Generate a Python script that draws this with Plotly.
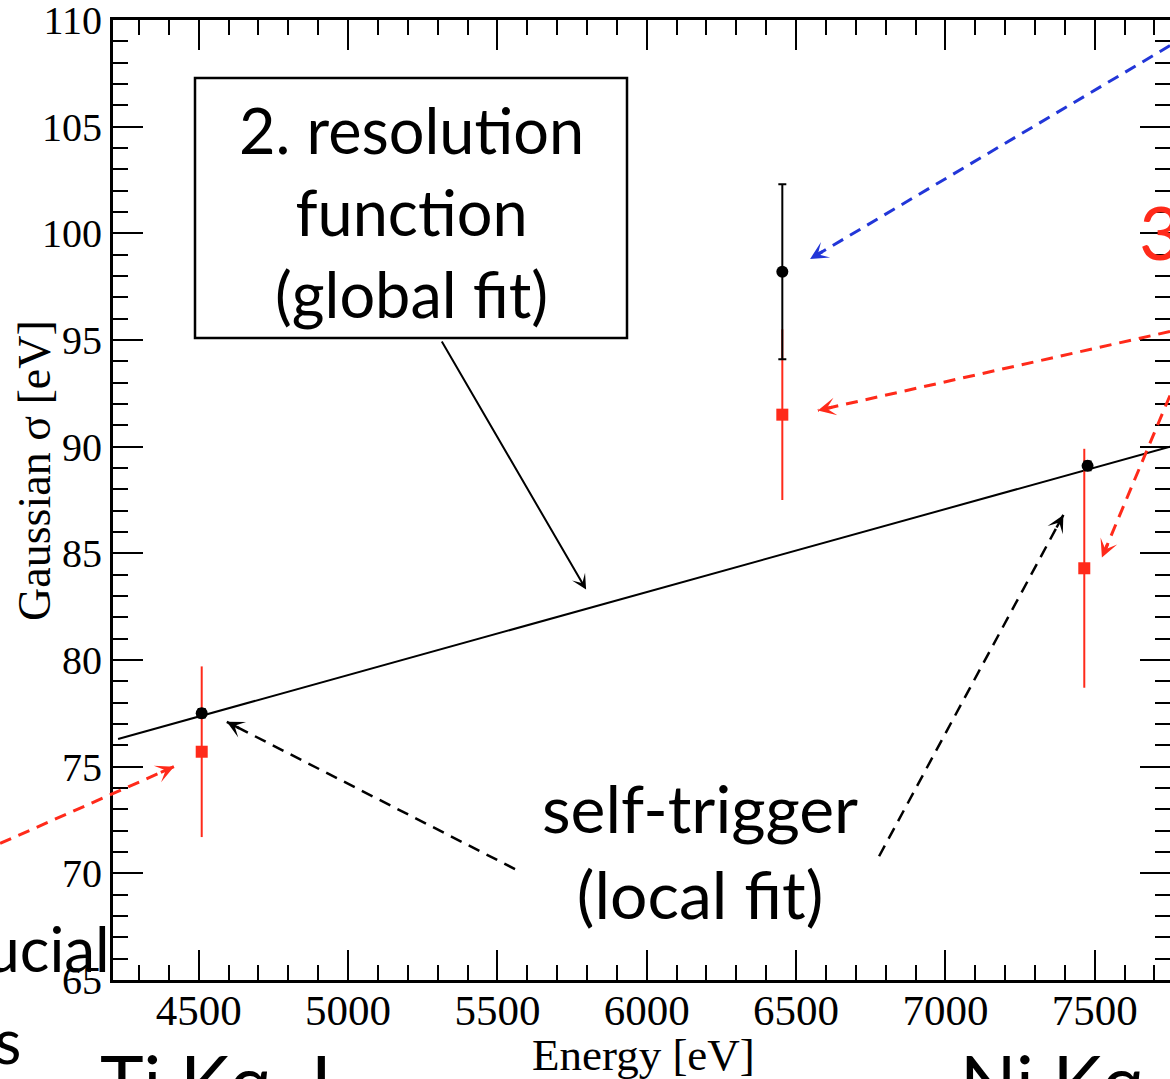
import plotly.graph_objects as go

# ---------------- data ----------------
energy_black = [4510, 6454, 7476]
sigma_black = [77.5, 98.2, 89.1]
err_black = [0.2, 4.1, 0.2]

energy_red = [4510, 6454, 7465]
sigma_red = [75.7, 91.5, 84.3]
err_red = [4.0, 4.0, 5.6]

fit_energy = [4230, 7752]
fit_sigma = [76.3, 90.0]

x_ticks = [4500, 5000, 5500, 6000, 6500, 7000, 7500]
y_ticks = [65, 70, 75, 80, 85, 90, 95, 100, 105, 110]

XMIN, XMAX = 4213, 7752
YMIN, YMAX = 65, 110

# ---------------- layout geometry ----------------
W, H = 1170, 1079
ML, MR, MT, MB = 113, 0, 20, 99
PW, PH = W - ML - MR, H - MT - MB
KX = PW / (XMAX - XMIN)   # px per eV
KY = PH / (YMAX - YMIN)   # px per eV (sigma)


def pxx(x):
    return (x - ML) / PW


def pxy(y):
    return (MT + PH - y) / PH


def dpx(e):
    return (e - XMIN) / (XMAX - XMIN)


def dpy(s):
    return (s - YMIN) / (YMAX - YMIN)


RED = "#ff2a1a"
BLUE = "#2236d8"
BLACK = "#000000"

fig = go.Figure()

fig.add_trace(go.Scatter(
    x=fit_energy, y=fit_sigma, mode="lines",
    line=dict(color=BLACK, width=2), showlegend=False, hoverinfo="skip"))

fig.add_trace(go.Scatter(
    x=energy_red, y=sigma_red, mode="markers",
    marker=dict(symbol="square", size=12, color=RED),
    error_y=dict(type="data", array=err_red, color=RED, thickness=2, width=0),
    showlegend=False))

fig.add_trace(go.Scatter(
    x=energy_black, y=sigma_black, mode="markers",
    marker=dict(symbol="circle", size=12, color=BLACK),
    error_y=dict(type="data", array=err_black, color=BLACK, thickness=2, width=4),
    showlegend=False))

# ---------------- arrows (start energy, start sigma, tip energy, tip sigma) ----------------
dashed_arrows = [
    (7752, 108.8, 6547, 98.8, BLUE, 3, 1.0),
    (7752, 95.4, 6573, 91.7, RED, 3, 1.0),
    (7752, 92.4, 7524, 84.8, RED, 3, 1.0),
    (3835, 71.4, 4417, 75.0, RED, 3, 1.0),
    (5559, 70.2, 4594, 77.1, BLACK, 2.5, 1.15),
    (6778, 70.8, 7395, 86.8, BLACK, 2.5, 1.15),
]

shapes = []
annotations = []
HEAD = 16
for e0, s0, e1, s1, col, lw, hs in dashed_arrows:
    shapes.append(dict(type="line", xref="paper", yref="paper",
                       x0=dpx(e0), y0=dpy(s0), x1=dpx(e1), y1=dpy(s1),
                       line=dict(color=col, width=lw, dash="12px,8px"),
                       layer="above"))
    dx = (e0 - e1) * KX
    dy = (s1 - s0) * KY
    n = (dx * dx + dy * dy) ** 0.5
    annotations.append(dict(x=e1, y=s1, xref="x", yref="y", text="",
                            showarrow=True, ax=dx / n * HEAD, ay=dy / n * HEAD,
                            arrowhead=3, arrowsize=hs, arrowwidth=lw,
                            arrowcolor=col, standoff=0))

# solid arrow from the box to the fit line
annotations.append(dict(x=5797, y=83.3, xref="x", yref="y",
                        ax=5311, ay=95.0, axref="x", ayref="y", text="",
                        showarrow=True, arrowhead=3, arrowsize=1.25,
                        arrowwidth=2, arrowcolor=BLACK, standoff=0))

# box with text
shapes.append(dict(type="rect", xref="paper", yref="paper",
                   x0=pxx(195), x1=pxx(627), y0=pxy(338), y1=pxy(78),
                   line=dict(color=BLACK, width=2.5), fillcolor="white",
                   layer="above"))

SANS = "Lato, 'Open Sans', sans-serif"
SERIF = "'Liberation Serif', 'Times New Roman', serif"

annotations.append(dict(x=pxx(411), y=pxy(212), xref="paper", yref="paper",
                        text="2. resolution<br>function<br>(global fit)",
                        showarrow=False, font=dict(family=SANS, size=63, color=BLACK),
                        xanchor="center", yanchor="middle", align="center"))

annotations.append(dict(x=pxx(700), y=pxy(850), xref="paper", yref="paper",
                        text="self-trigger<br>(local fit)",
                        showarrow=False, font=dict(family=SANS, size=66, color=BLACK),
                        xanchor="center", yanchor="middle", align="center"))

annotations.append(dict(x=pxx(1137), y=pxy(231), xref="paper", yref="paper",
                        text="3", showarrow=False,
                        font=dict(family=SANS, size=74, color=RED),
                        xanchor="left", yanchor="middle"))

annotations.append(dict(x=pxx(112), y=pxy(948), xref="paper", yref="paper",
                        text="fiducial", showarrow=False,
                        font=dict(family=SANS, size=62, color=BLACK),
                        xanchor="right", yanchor="middle"))
annotations.append(dict(x=pxx(23), y=pxy(1040), xref="paper", yref="paper",
                        text="cuts", showarrow=False,
                        font=dict(family=SANS, size=62, color=BLACK),
                        xanchor="right", yanchor="middle"))

annotations.append(dict(x=pxx(98), y=pxy(1080), xref="paper", yref="paper",
                        text="Ti Kα\u00a0\u00a0L", showarrow=False,
                        font=dict(family=SANS, size=74, color=BLACK),
                        xanchor="left", yanchor="middle"))
annotations.append(dict(x=pxx(958), y=pxy(1080), xref="paper", yref="paper",
                        text="Ni Kα\u00a0\u00a0L", showarrow=False,
                        font=dict(family=SANS, size=74, color=BLACK),
                        xanchor="left", yanchor="middle"))

# axis titles
annotations.append(dict(x=pxx(34), y=pxy(471), xref="paper", yref="paper",
                        text="Gaussian σ [eV]", textangle=-90, showarrow=False,
                        font=dict(family=SERIF, size=46, color=BLACK),
                        xanchor="center", yanchor="middle"))
annotations.append(dict(x=pxx(643), y=pxy(1055), xref="paper", yref="paper",
                        text="Energy [eV]", showarrow=False,
                        font=dict(family=SERIF, size=45, color=BLACK),
                        xanchor="center", yanchor="middle"))

axis_common = dict(showgrid=False, zeroline=False, showline=True, linecolor=BLACK,
                   linewidth=3, mirror="allticks", ticks="inside", ticklen=30,
                   tickwidth=2, tickcolor=BLACK, ticklabeloverflow="allow")

fig.update_layout(
    width=W, height=H,
    margin=dict(l=ML, r=MR, t=MT, b=MB, pad=0, autoexpand=False),
    paper_bgcolor="white", plot_bgcolor="white",
    xaxis=dict(range=[XMIN, XMAX], tickvals=x_ticks, ticktext=[str(v) for v in x_ticks],
               tickfont=dict(family=SERIF, size=43, color=BLACK),
               ticklabelstandoff=-10,
               minor=dict(dtick=100, tick0=0, ticks="inside", ticklen=15, tickwidth=2,
                          tickcolor=BLACK, showgrid=False),
               **axis_common),
    yaxis=dict(range=[YMIN, YMAX], tickvals=y_ticks, ticktext=[str(v) for v in y_ticks],
               tickfont=dict(family=SERIF, size=40, color=BLACK),
               minor=dict(dtick=1, tick0=0, ticks="inside", ticklen=15, tickwidth=2,
                          tickcolor=BLACK, showgrid=False),
               **axis_common),
    shapes=shapes,
    annotations=annotations,
    showlegend=False,
)

fig.write_html(
    "out.html",
    config={"displayModeBar": False},
    post_script="document.body.style.margin='0';document.body.style.overflow='hidden';",
)
